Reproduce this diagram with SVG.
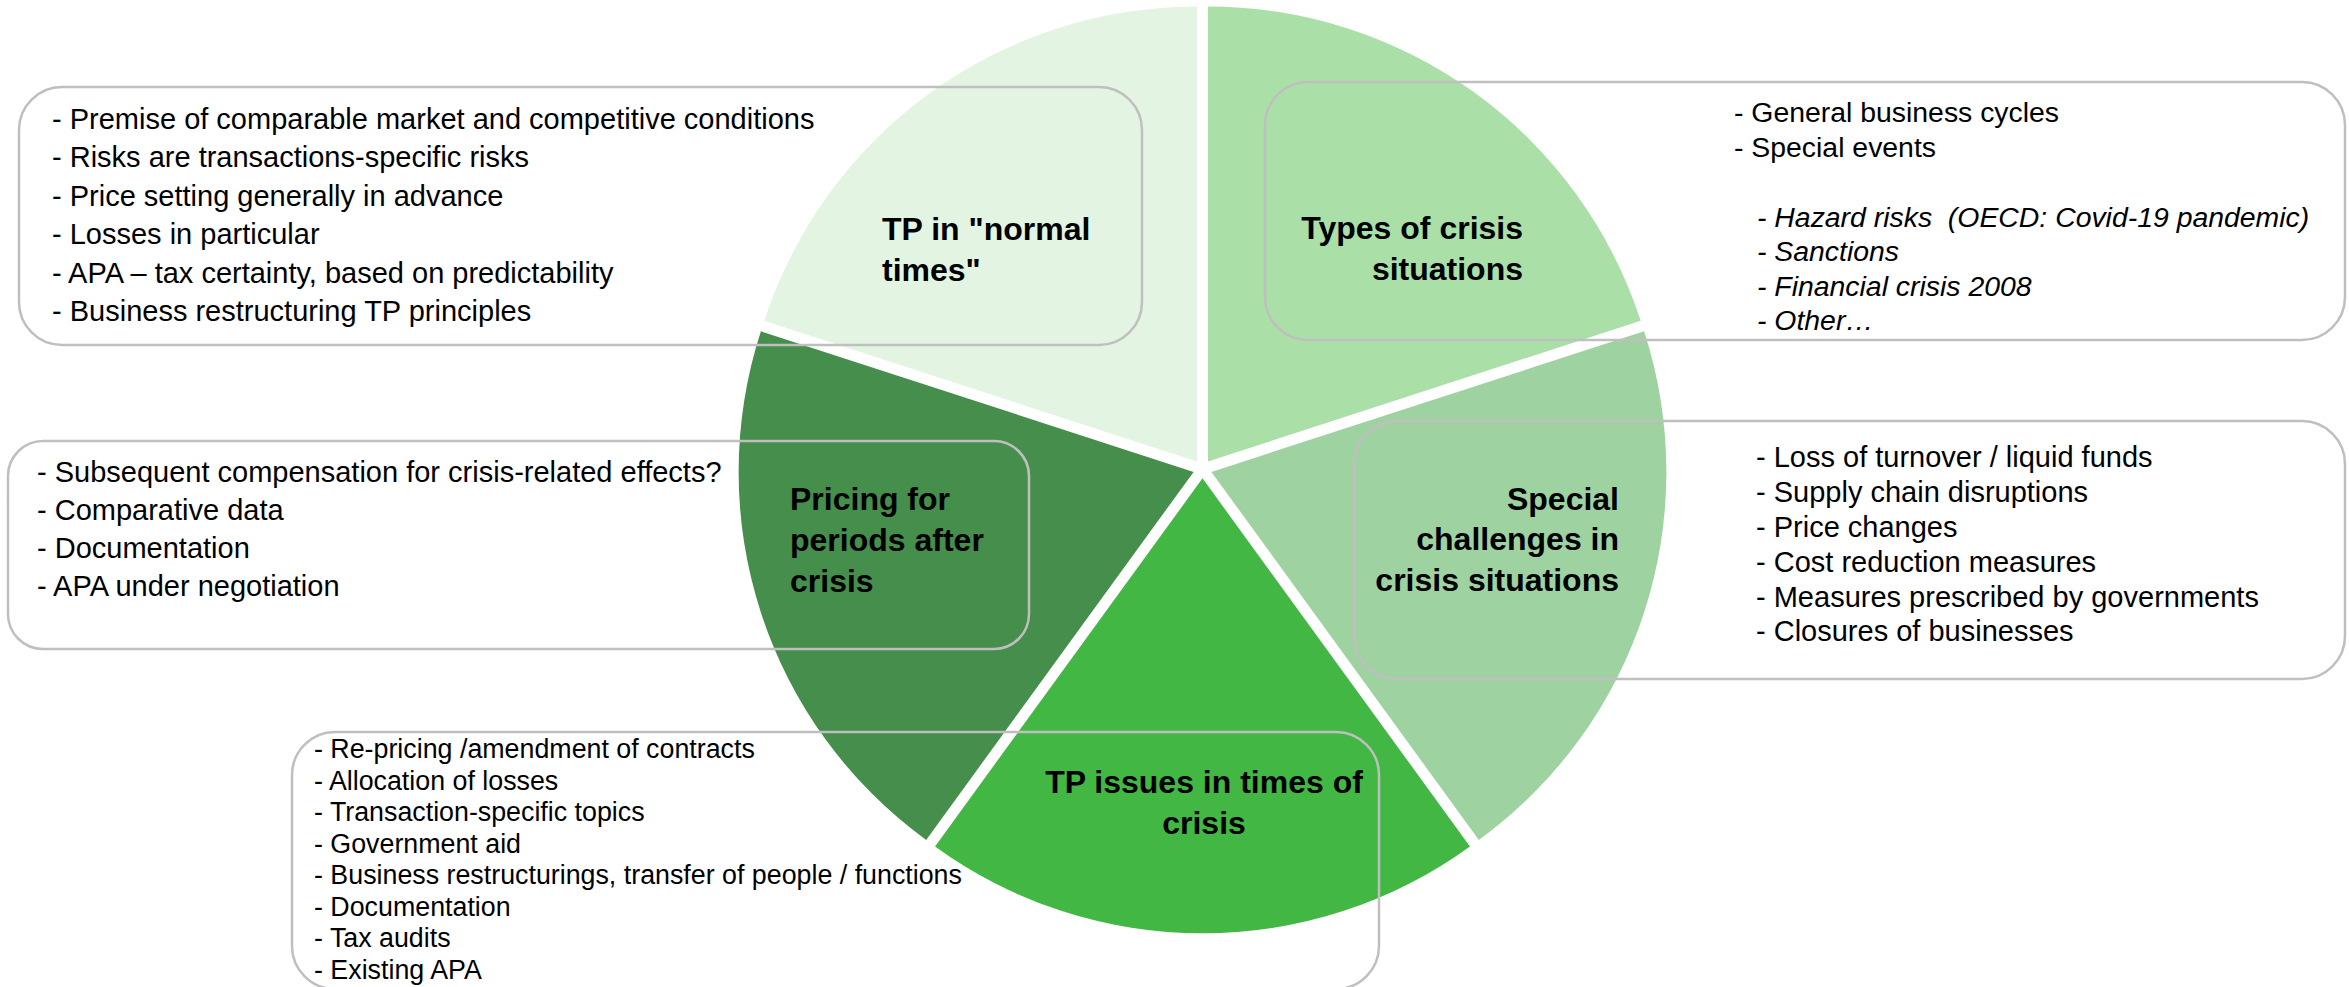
<svg xmlns="http://www.w3.org/2000/svg" width="2349" height="987" viewBox="0 0 2349 987">
<style>
.box{fill:none;stroke:#BFBFBF;stroke-width:2.5}
.t{font-family:"Liberation Sans",Arial,sans-serif;fill:#000}
.b29{font-size:29px}
.b28{font-size:28.4px}
.b26{font-size:26.8px}
.it{font-style:italic}
.ttl{font-family:"Liberation Sans",Arial,sans-serif;font-weight:bold;font-size:32px;fill:#000}
</style>
<rect width="2349" height="987" fill="#FFFFFF"/>
<g id="pie">
<path id="slice-normal" d="M1197 461.44 L764.27 320.84 A455 455 0 0 1 1197 6.44 Z" fill="#E3F4E3"/>
<path id="slice-types" d="M1208 461.44 L1208 6.44 A455 455 0 0 1 1640.73 320.84 Z" fill="#AADFA8"/>
<path id="slice-special" d="M1211.39 471.89 L1644.12 331.29 A455 455 0 0 1 1478.84 839.99 Z" fill="#9FD2A1"/>
<path id="slice-issues" d="M1202.5 478.35 L1469.95 846.45 A455 455 0 0 1 935.05 846.45 Z" fill="#42B743"/>
<path id="slice-pricing" d="M1193.61 471.89 L926.16 839.99 A455 455 0 0 1 760.88 331.29 Z" fill="#458E4B"/>
</g>
<g id="node-normal">
<rect class="box" x="19" y="87" width="1123" height="258" rx="43" ry="43"/>
<text class="ttl" x="882" y="240">TP in "normal</text>
<text class="ttl" x="882" y="281">times"</text>
<g class="t b29">
<text x="52" y="129">- Premise of comparable market and competitive conditions</text>
<text x="52" y="167.4">- Risks are transactions-specific risks</text>
<text x="52" y="205.8">- Price setting generally in advance</text>
<text x="52" y="244.2">- Losses in particular</text>
<text x="52" y="282.6">- APA – tax certainty, based on predictability</text>
<text x="52" y="321">- Business restructuring TP principles</text>
</g>
</g>
<g id="node-types">
<rect class="box" x="1265" y="82" width="1080" height="258" rx="43" ry="43"/>
<text class="ttl" x="1523" y="239" text-anchor="end">Types of crisis</text>
<text class="ttl" x="1523" y="280" text-anchor="end">situations</text>
<g class="t b28">
<text x="1734" y="122">- General business cycles</text>
<text x="1734" y="157">- Special events</text>
<text class="it" x="1757" y="226.5">- Hazard risks &#160;(OECD: Covid-19 pandemic)</text>
<text class="it" x="1757" y="261">- Sanctions</text>
<text class="it" x="1757" y="295.5">- Financial crisis 2008</text>
<text class="it" x="1757" y="330">- Other…</text>
</g>
</g>
<g id="node-special">
<rect class="box" x="1354" y="421" width="991" height="258" rx="43" ry="43"/>
<text class="ttl" x="1619" y="510" text-anchor="end">Special</text>
<text class="ttl" x="1619" y="550" text-anchor="end">challenges in</text>
<text class="ttl" x="1619" y="591" text-anchor="end">crisis situations</text>
<g class="t b29">
<text x="1756" y="467">- Loss of turnover / liquid funds</text>
<text x="1756" y="502">- Supply chain disruptions</text>
<text x="1756" y="537">- Price changes</text>
<text x="1756" y="572">- Cost reduction measures</text>
<text x="1756" y="606.5">- Measures prescribed by governments</text>
<text x="1756" y="641">- Closures of businesses</text>
</g>
</g>
<g id="node-pricing">
<rect class="box" x="8" y="441" width="1021" height="208" rx="35" ry="35"/>
<text class="ttl" x="790" y="510">Pricing for</text>
<text class="ttl" x="790" y="551">periods after</text>
<text class="ttl" x="790" y="592">crisis</text>
<g class="t b29">
<text x="37" y="481.5">- Subsequent compensation for crisis-related effects?</text>
<text x="37" y="519.5">- Comparative data</text>
<text x="37" y="557.5">- Documentation</text>
<text x="37" y="596">- APA under negotiation</text>
</g>
</g>
<g id="node-issues">
<rect class="box" x="292" y="732" width="1087" height="257" rx="43" ry="43"/>
<text class="ttl" x="1204" y="793" text-anchor="middle">TP issues in times of</text>
<text class="ttl" x="1204" y="834" text-anchor="middle">crisis</text>
<g class="t b26">
<text x="314" y="758">- Re-pricing /amendment of contracts</text>
<text x="314" y="789.6">- Allocation of losses</text>
<text x="314" y="821">- Transaction-specific topics</text>
<text x="314" y="852.5">- Government aid</text>
<text x="314" y="884">- Business restructurings, transfer of people / functions</text>
<text x="314" y="915.5">- Documentation</text>
<text x="314" y="947">- Tax audits</text>
<text x="314" y="978.5">- Existing APA</text>
</g>
</g>
</svg>
